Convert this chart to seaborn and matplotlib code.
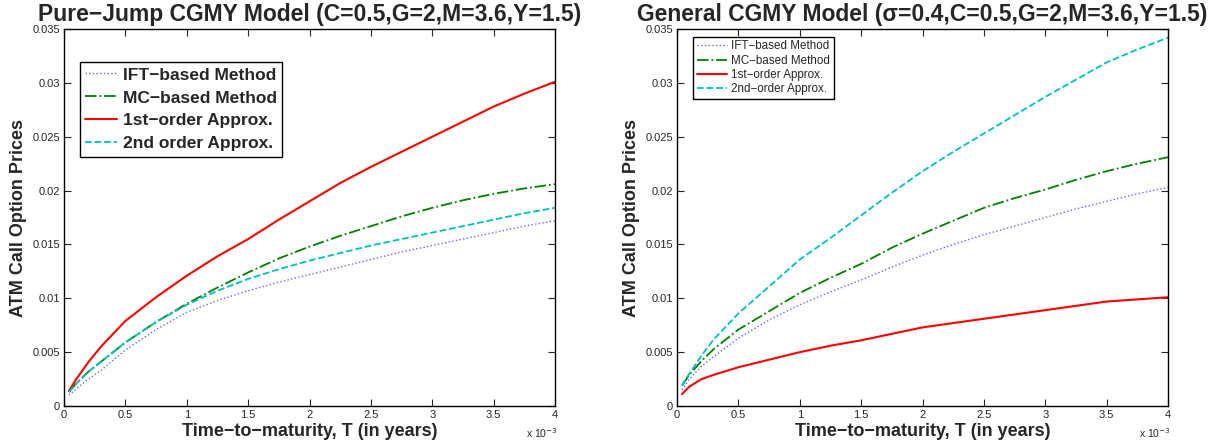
import numpy as np
import pandas as pd
import seaborn as sns
import matplotlib.pyplot as plt

# time-to-maturity in units of 1e-3 years
maturity_e3 = [0.04, 0.1, 0.2, 0.3, 0.5, 0.75, 1.0, 1.25, 1.5, 1.75, 2.0,
               2.25, 2.5, 2.75, 3.0, 3.25, 3.5, 3.75, 4.0]

# Pure-jump CGMY model
pj_ift = [0.0010, 0.0016, 0.0025, 0.0033, 0.0052, 0.0071, 0.0087, 0.0098, 0.0107, 0.0115,
          0.0122, 0.0129, 0.0136, 0.0143, 0.0149, 0.0155, 0.0161, 0.0167, 0.0172]
pj_mc = [0.0013, 0.0021, 0.0032, 0.0041, 0.0059, 0.0078, 0.0095, 0.0110, 0.0124, 0.0137,
         0.0148, 0.0158, 0.0167, 0.0176, 0.0184, 0.0191, 0.0197, 0.0202, 0.0206]
pj_first = [0.0014, 0.0025, 0.0041, 0.0055, 0.0079, 0.0101, 0.0121, 0.0139, 0.0155, 0.0173,
            0.0190, 0.0207, 0.0222, 0.0236, 0.0250, 0.0264, 0.0278, 0.0290, 0.0301]
pj_second = [0.0013, 0.0021, 0.0032, 0.0041, 0.0059, 0.0078, 0.0094, 0.0107, 0.0118, 0.0127,
             0.0135, 0.0142, 0.0149, 0.0155, 0.0161, 0.0167, 0.0173, 0.0179, 0.0184]

# General CGMY model (with diffusion)
gen_ift = [0.0015, 0.0025, 0.0037, 0.0046, 0.0063, 0.0080, 0.0094, 0.0106, 0.0117, 0.0129,
           0.0140, 0.0150, 0.0159, 0.0167, 0.0175, 0.0183, 0.0190, 0.0197, 0.0203]
gen_mc = [0.0019, 0.0029, 0.0042, 0.0053, 0.0071, 0.0088, 0.0105, 0.0119, 0.0132, 0.0147,
          0.0160, 0.0172, 0.0184, 0.0193, 0.0201, 0.0210, 0.0218, 0.0225, 0.0231]
gen_first = [0.0011, 0.0018, 0.0025, 0.0029, 0.0036, 0.0043, 0.0050, 0.0056, 0.0061, 0.0067,
             0.0073, 0.0077, 0.0081, 0.0085, 0.0089, 0.0093, 0.0097, 0.0099, 0.0101]
gen_second = [0.0019, 0.0030, 0.0047, 0.0062, 0.0086, 0.0111, 0.0136, 0.0156, 0.0177, 0.0198,
              0.0218, 0.0236, 0.0253, 0.0270, 0.0287, 0.0303, 0.0319, 0.0331, 0.0342]

pj_labels = ['IFT\u2212based Method', 'MC\u2212based Method', '1st\u2212order Approx.', '2nd order Approx.']
gen_labels = ['IFT\u2212based Method', 'MC\u2212based Method', '1st\u2212order Approx.', '2nd\u2212order Approx.']

styles = [
    dict(color='#6666ff', linestyle=':', linewidth=1.0),
    dict(color='#008000', linestyle='-.', linewidth=1.3),
    dict(color='#ff0000', linestyle='-', linewidth=1.5),
    dict(color='#00bfbf', linestyle='--', linewidth=1.3),
]

sns.set_style('ticks')
plt.rcParams['font.family'] = ['Liberation Sans', 'DejaVu Sans']
plt.rcParams['axes.unicode_minus'] = True

fig = plt.figure(figsize=(12.29, 4.45), dpi=100)
ax1 = fig.add_axes([0.0521, 0.0876, 0.3995, 0.8472])
ax2 = fig.add_axes([0.5509, 0.0876, 0.3995, 0.8472])


def draw_panel(ax, series, labels, title, legend_size, legend_weight, legend_pos,
               handle_len, label_space):
    for vals, lab, st in zip(series, labels, styles):
        sns.lineplot(x=maturity_e3, y=vals, ax=ax, label=lab, **st)
    ax.set_xlim(0, 4)
    ax.set_ylim(0, 0.035)
    ax.set_xticks(np.arange(0, 4.01, 0.5))
    ax.set_xticklabels(['0', '0.5', '1', '1.5', '2', '2.5', '3', '3.5', '4'])
    ax.set_yticks(np.arange(0, 0.0351, 0.005))
    ax.set_yticklabels(['0', '0.005', '0.01', '0.015', '0.02', '0.025', '0.03', '0.035'])
    ax.tick_params(direction='in', length=5, width=0.8, labelsize=8,
                   top=True, right=True, pad=3)
    for sp in ax.spines.values():
        sp.set_visible(True)
        sp.set_linewidth(1.0)
        sp.set_color('black')
    ax.set_title(title, fontsize=16.5, fontweight='bold', pad=6)
    ax.set_xlabel('Time\u2212to\u2212maturity, T (in years)', fontsize=13, fontweight='bold', labelpad=2)
    ax.set_ylabel('ATM Call Option Prices', fontsize=13, fontweight='bold', labelpad=4)
    ax.text(1.005, -0.072, r'x 10$^{-3}$', transform=ax.transAxes, ha='right', va='center', fontsize=7.5)
    leg = ax.legend(loc='upper left', bbox_to_anchor=legend_pos, frameon=True, fancybox=False,
                    edgecolor='black', framealpha=1, borderpad=0.3, labelspacing=label_space,
                    handlelength=handle_len, handletextpad=0.35, borderaxespad=0,
                    prop=dict(size=legend_size, weight=legend_weight))
    leg.get_frame().set_linewidth(1.0)


draw_panel(ax1, [pj_ift, pj_mc, pj_first, pj_second], pj_labels,
           'Pure\u2212Jump CGMY Model (C=0.5,G=2,M=3.6,Y=1.5)', 12.5, 'bold', (0.033, 0.912),
           1.8, 0.45)
draw_panel(ax2, [gen_ift, gen_mc, gen_first, gen_second], gen_labels,
           'General CGMY Model (\u03c3=0.4,C=0.5,G=2,M=3.6,Y=1.5)', 8.4, 'normal', (0.033, 0.979),
           2.6, 0.2)

fig.savefig('out.png', dpi=100)
